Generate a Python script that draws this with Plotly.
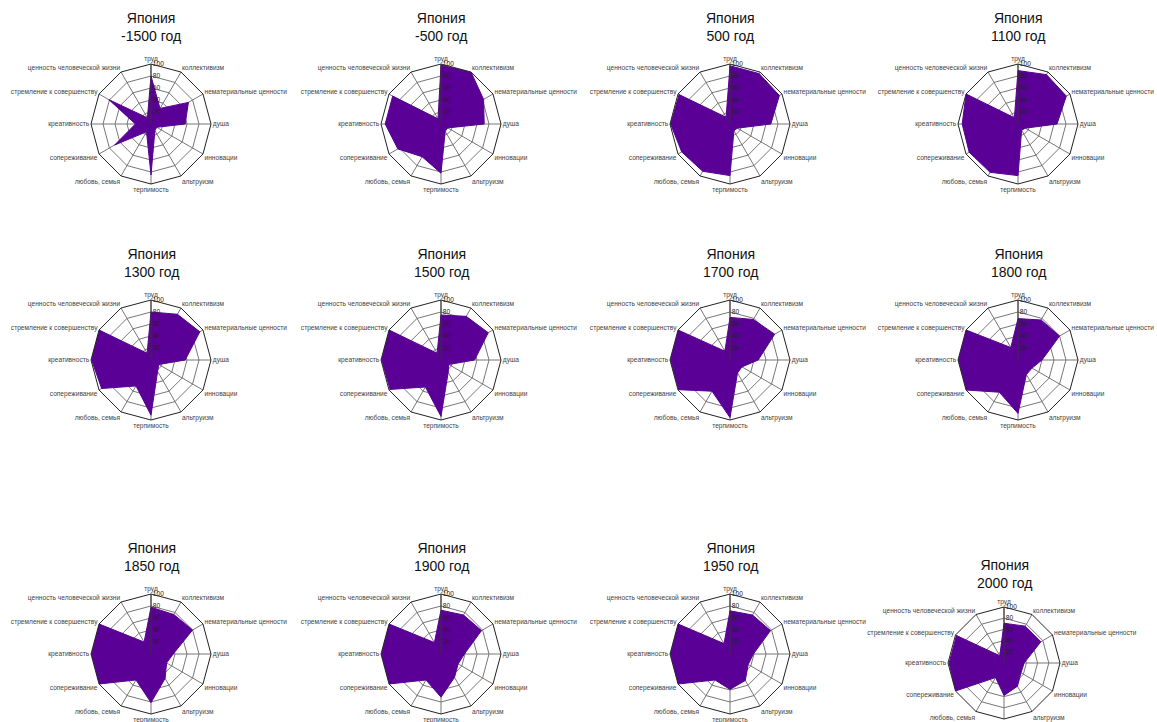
import plotly.graph_objects as go

categories = ["труд", "коллективизм", "нематериальные ценности", "душа", "инновации",
              "альтруизм", "терпимость", "любовь, семья", "сопереживание", "креативность",
              "стремление к совершенству", "ценность человеческой жизни"]

years = ["-1500", "-500", "500", "1100", "1300", "1500", "1700", "1800", "1850", "1900", "1950", "2000"]

v_m1500 = [80, 30, 72, 57, 11, 13, 85, 15, 70, 26, 81, 12]
v_m500 = [98, 100, 82, 72, 13, 14, 82, 63, 83, 93, 93, 10]
v_500 = [97, 97, 95, 68, 14, 13, 86, 91, 93, 99, 98, 13]
v_1100 = [89, 95, 93, 65, 14, 12, 86, 93, 94, 93, 100, 12]
v_1300 = [80, 88, 94, 57, 15, 22, 92, 50, 95, 99, 100, 13]
v_1500 = [75, 84, 91, 56, 15, 24, 94, 52, 98, 99, 100, 13]
v_1700 = [71, 78, 86, 47, 23, 25, 96, 60, 99, 99, 100, 17]
v_1800 = [69, 77, 80, 40, 27, 28, 89, 62, 100, 99, 100, 24]
v_1850 = [78, 76, 80, 37, 30, 47, 81, 50, 100, 99, 100, 23]
v_1900 = [73, 75, 78, 39, 33, 45, 72, 50, 100, 99, 100, 22]
v_1950 = [72, 75, 78, 39, 35, 51, 59, 50, 100, 99, 100, 20]
v_2000 = [71, 76, 76, 36, 35, 48, 58, 30, 100, 98, 98, 15]

series = [v_m1500, v_m500, v_500, v_1100, v_1300, v_1500, v_1700, v_1800,
          v_1850, v_1900, v_1950, v_2000]

W, H = 1157, 722
centers = [(151, 124, 60), (441, 124, 60), (730, 124, 60), (1018, 124, 60),
           (151, 360, 60), (441, 360, 60), (730, 360, 60), (1018, 360, 60),
           (151, 654, 60), (441, 654, 60), (730, 654, 60), (1004, 663, 56)]
title_y = [27, 27, 27, 27, 263, 263, 263, 263, 557, 557, 557, 574]

fill = "#5a0096"
fig = go.Figure()
layout = dict(width=W, height=H, margin=dict(l=0, r=0, t=0, b=0),
              paper_bgcolor="white", showlegend=False,
              font=dict(family="Liberation Sans, Arial, sans-serif"))
annotations = []
for i, (yr, vals) in enumerate(zip(years, series)):
    key = "polar" if i == 0 else f"polar{i+1}"
    fig.add_trace(go.Scatterpolar(r=vals + [vals[0]], theta=categories + [categories[0]],
                                  fill="toself", fillcolor=fill, mode="lines",
                                  line=dict(color=fill, width=1),
                                  subplot=key, hoverinfo="skip"))
    cx, cy, rad = centers[i]
    layout[key] = dict(
        domain=dict(x=[(cx - rad) / W, (cx + rad) / W],
                    y=[(H - cy - rad) / H, (H - cy + rad) / H]),
        bgcolor="white",
        gridshape="linear",
        radialaxis=dict(range=[0, 100], tickvals=[20, 40, 60, 80, 100], angle=90,
                        tickangle=90, showline=True, linecolor="#333", linewidth=1,
                        gridcolor="#777", gridwidth=1, ticks="",
                        tickfont=dict(size=6.6, color="#222")),
        angularaxis=dict(direction="clockwise", rotation=90, showline=True,
                         linecolor="#222", linewidth=1, gridcolor="#777",
                         ticks="", tickfont=dict(size=6.6, color="#444")),
    )
    annotations.append(dict(text=f"Япония<br>{yr} год", x=cx / W,
                            y=1 - title_y[i] / H,
                            xref="paper", yref="paper", showarrow=False,
                            xanchor="center", yanchor="middle",
                            font=dict(size=14, color="#111")))
layout["annotations"] = annotations
fig.update_layout(**layout)
fig.write_html("out.html", config={"displayModeBar": False},
               post_script="document.body.style.margin='0';document.body.style.overflow='hidden';")
